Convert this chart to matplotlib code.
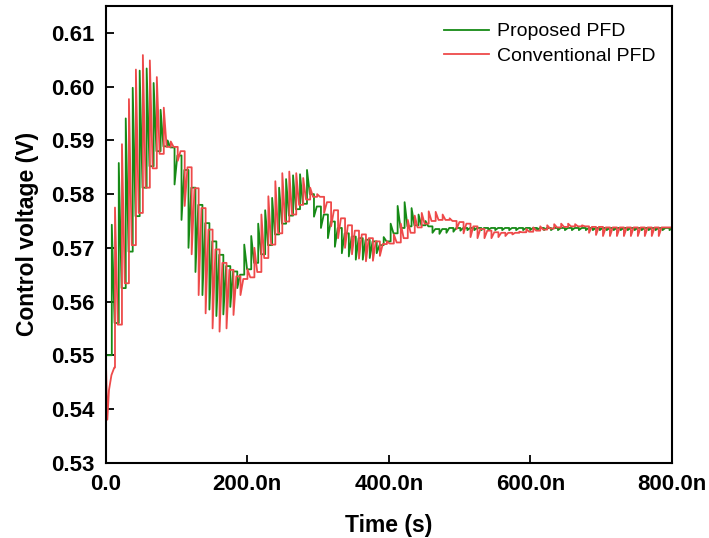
"""
PLL control voltage transient: proposed PFD vs conventional PFD
"""
import matplotlib
matplotlib.use('Agg')
import matplotlib.pyplot as plt

plt.rcParams['font.family'] = ['Liberation Sans', 'DejaVu Sans']

# reference clock period (ns) and first charge-pump pulse of each trace
period = 9.85
green_t0 = 8.5
red_t0 = 13.0

# level just before each charge-pump pulse and the level the pulse reaches (V)
green_base = [0.5500, 0.5560, 0.5625, 0.5693, 0.5759, 0.5812, 0.5852, 0.5880, 0.5889,
              0.5887, 0.5872, 0.5845, 0.5812, 0.5780, 0.5746, 0.5712, 0.5687, 0.5666, 0.5656,
              0.5650, 0.5660, 0.5672, 0.5688, 0.5705, 0.5725, 0.5745, 0.5760, 0.5772, 0.5782,
              0.5800, 0.5777, 0.5762, 0.5749, 0.5737, 0.5727, 0.5721, 0.5718, 0.5715, 0.5712,
              0.5705, 0.5712, 0.5727, 0.5737, 0.5740, 0.5742, 0.5742, 0.5740, 0.5735, 0.5735,
              0.5737, 0.5737, 0.5737, 0.5737, 0.5737, 0.5737, 0.5737, 0.5737, 0.5737, 0.5737,
              0.5737, 0.5737, 0.5737, 0.5737, 0.5737, 0.5737, 0.5737, 0.5737, 0.5737, 0.5737,
              0.5737, 0.5737, 0.5737, 0.5737, 0.5737, 0.5737, 0.5737, 0.5737, 0.5737, 0.5737,
              0.5737, 0.5737]
green_peak = [0.5743, 0.5858, 0.5941, 0.5998, 0.6030, 0.6034, 0.6007, 0.5957, 0.5900,
              0.5818, 0.5752, 0.5700, 0.5655, 0.5612, 0.5585, 0.5573, 0.5576, 0.5590, 0.5625,
              0.5706, 0.5722, 0.5745, 0.5770, 0.5793, 0.5812, 0.5828, 0.5835, 0.5837, 0.5845,
              0.5758, 0.5737, 0.5718, 0.5702, 0.5690, 0.5684, 0.5678, 0.5678, 0.5681, 0.5690,
              0.5720, 0.5745, 0.5778, 0.5785, 0.5774, 0.5762, 0.5750, 0.5728, 0.5726, 0.5728,
              0.5730, 0.5732, 0.5733, 0.5733, 0.5733, 0.5733, 0.5733, 0.5733, 0.5733, 0.5733,
              0.5733, 0.5733, 0.5733, 0.5733, 0.5733, 0.5733, 0.5733, 0.5733, 0.5733, 0.5733,
              0.5733, 0.5733, 0.5733, 0.5733, 0.5733, 0.5733, 0.5733, 0.5733, 0.5733, 0.5733,
              0.5733, 0.5733]

red_base = [0.5477, 0.5557, 0.5634, 0.5705, 0.5765, 0.5812, 0.5848, 0.5875, 0.5888,
            0.5888, 0.5880, 0.5850, 0.5811, 0.5774, 0.5734, 0.5697, 0.5672, 0.5659, 0.5647,
            0.5642, 0.5645, 0.5655, 0.5681, 0.5706, 0.5727, 0.5749, 0.5762, 0.5780, 0.5790,
            0.5795, 0.5795, 0.5785, 0.5770, 0.5755, 0.5742, 0.5732, 0.5725, 0.5718, 0.5712,
            0.5707, 0.5708, 0.5710, 0.5718, 0.5728, 0.5738, 0.5745, 0.5750, 0.5752, 0.5752,
            0.5750, 0.5748, 0.5745, 0.5740, 0.5735, 0.5732, 0.5729, 0.5728, 0.5728, 0.5728,
            0.5729, 0.5730, 0.5732, 0.5734, 0.5736, 0.5738, 0.5739, 0.5740, 0.5740, 0.5740,
            0.5739, 0.5739, 0.5738, 0.5738, 0.5738, 0.5738, 0.5738, 0.5738, 0.5738, 0.5738]
red_peak = [0.5775, 0.5893, 0.5977, 0.6032, 0.6059, 0.6049, 0.6018, 0.5961, 0.5898,
            0.5862, 0.5778, 0.5688, 0.5612, 0.5578, 0.5550, 0.5544, 0.5550, 0.5575, 0.5612,
            0.5660, 0.5700, 0.5762, 0.5796, 0.5824, 0.5839, 0.5842, 0.5839, 0.5830, 0.5812,
            0.5800, 0.5765, 0.5740, 0.5718, 0.5700, 0.5688, 0.5680, 0.5675, 0.5676, 0.5685,
            0.5712, 0.5725, 0.5745, 0.5752, 0.5760, 0.5765, 0.5768, 0.5767, 0.5762, 0.5755,
            0.5735, 0.5727, 0.5720, 0.5718, 0.5718, 0.5718, 0.5720, 0.5722, 0.5725, 0.5730,
            0.5735, 0.5738, 0.5740, 0.5742, 0.5744, 0.5745, 0.5745, 0.5744, 0.5742, 0.5728,
            0.5724, 0.5722, 0.5722, 0.5722, 0.5722, 0.5722, 0.5722, 0.5722, 0.5722, 0.5722]

# start of each trace before the first pulse (ns, V)
green_start_t = [0.0]
green_start_v = [0.5500]
red_start_t = [0.0, 2.2, 4.5, 8.0, 12.0]
red_start_v = [0.5500, 0.5380, 0.5435, 0.5463, 0.5477]

x_ticks = [0, 200, 400, 600, 800]
x_ticklabels = ['0.0', '200.0n', '400.0n', '600.0n', '800.0n']
y_ticks = [0.53, 0.54, 0.55, 0.56, 0.57, 0.58, 0.59, 0.60, 0.61]


def build_trace(start_t, start_v, t0, base, peak, t_end, fall=4.0):
    """jump at each pulse, then relax to the next level"""
    t = list(start_t)
    v = list(start_v)
    for k in range(len(base)):
        tk = t0 + k * period
        nxt = base[k + 1] if k + 1 < len(base) else base[k]
        t += [tk, tk, tk + fall]
        v += [base[k], peak[k], nxt]
    t.append(t_end)
    v.append(v[-1])
    return t, v


gt, gv = build_trace(green_start_t, green_start_v, green_t0, green_base, green_peak, 800)
rt, rv = build_trace(red_start_t, red_start_v, red_t0, red_base, red_peak, 800)

fig = plt.figure(figsize=(7.09, 5.38), dpi=100)
ax = fig.add_axes([0.1492, 0.1401, 0.7986, 0.8484])

ax.plot(gt, gv, color='#168a16', linewidth=1.3, label='Proposed PFD')
ax.plot(rt, rv, color='#ee4a4a', linewidth=1.3, label='Conventional PFD')

ax.set_xlim(0, 800)
ax.set_ylim(0.53, 0.615)
ax.set_xticks(x_ticks)
ax.set_xticklabels(x_ticklabels)
ax.set_yticks(y_ticks)
ax.set_yticklabels([f'{y:.2f}' for y in y_ticks])
ax.tick_params(direction='in', length=6, width=1.3, labelsize=16, pad=8)
for lab in ax.get_xticklabels() + ax.get_yticklabels():
    lab.set_fontweight('bold')
for sp in ax.spines.values():
    sp.set_linewidth(1.5)

ax.set_xlabel('Time (s)', fontsize=16.5, weight='bold', labelpad=14)
ax.set_ylabel('Control voltage (V)', fontsize=16.5, weight='bold', labelpad=9)

ax.legend(loc='upper right', frameon=False, fontsize=14, handlelength=2.3,
          handletextpad=0.4, borderaxespad=0.45, labelspacing=0.35)

plt.savefig('out.png', dpi=100)
